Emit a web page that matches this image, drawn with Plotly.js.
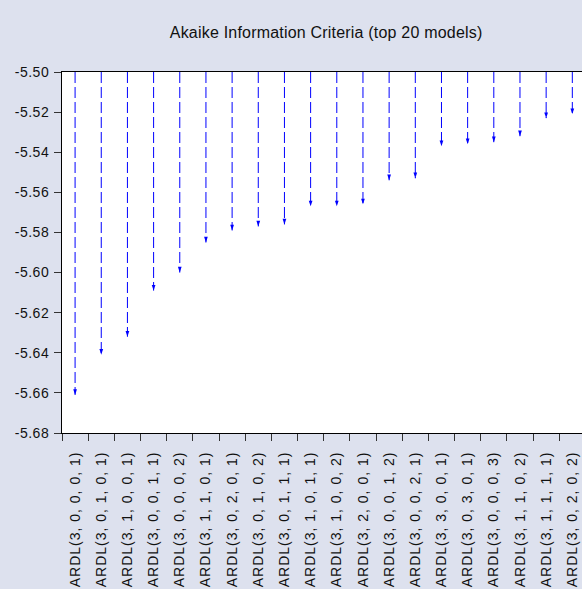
<!DOCTYPE html>
<html>
<head>
<meta charset="utf-8">
<script src="https://cdn.plot.ly/plotly-3.0.1.min.js"></script>
<style>
html,body{margin:0;padding:0;background:#DDE1EE;}
#chart{width:582px;height:589px;}
#chart .xtick text{letter-spacing:1px;}
#chart .ytick text{letter-spacing:0.5px;}
#chart .gtitle{letter-spacing:0.2px;}
</style>
</head>
<body>
<div id="chart"></div>
<script>
var models = [
  "ARDL(3, 0, 0, 0, 1)", "ARDL(3, 0, 1, 0, 1)", "ARDL(3, 1, 0, 0, 1)", "ARDL(3, 0, 0, 1, 1)",
  "ARDL(3, 0, 0, 0, 2)", "ARDL(3, 1, 1, 0, 1)", "ARDL(3, 0, 2, 0, 1)", "ARDL(3, 0, 1, 0, 2)",
  "ARDL(3, 0, 1, 1, 1)", "ARDL(3, 1, 0, 1, 1)", "ARDL(3, 1, 0, 0, 2)", "ARDL(3, 2, 0, 0, 1)",
  "ARDL(3, 0, 0, 1, 2)", "ARDL(3, 0, 0, 2, 1)", "ARDL(3, 3, 0, 0, 1)", "ARDL(3, 0, 3, 0, 1)",
  "ARDL(3, 0, 0, 0, 3)", "ARDL(3, 1, 1, 0, 2)", "ARDL(3, 1, 1, 1, 1)", "ARDL(3, 0, 2, 0, 2)"
];
var aic = [
  -5.661, -5.641, -5.632, -5.609, -5.600, -5.585, -5.579, -5.577, -5.576, -5.567,
  -5.567, -5.566, -5.554, -5.553, -5.537, -5.536, -5.535, -5.532, -5.523, -5.521
];
var baseline = -5.50;
var yTickVals = [-5.68, -5.66, -5.64, -5.62, -5.60, -5.58, -5.56, -5.54, -5.52, -5.50];
var yTickText = ["-5.68", "-5.66", "-5.64", "-5.62", "-5.60", "-5.58", "-5.56", "-5.54", "-5.52", "-5.50"];

var lx = [], ly = [];
for (var i = 0; i < models.length; i++) {
  lx.push(models[i], models[i], null);
  ly.push(baseline, aic[i], null);
}

var traces = [
  {
    type: 'scatter', mode: 'lines', x: lx, y: ly,
    line: {color: '#0000FF', width: 1, dash: '11px,4px'},
    hoverinfo: 'skip', connectgaps: false, cliponaxis: false
  },
  {
    type: 'scatter', mode: 'markers', x: models, y: aic,
    marker: {symbol: 'arrow', angle: 180, size: 6, color: '#0000FF', line: {width: 0}},
    cliponaxis: false
  }
];

var layout = {
  width: 582, height: 589,
  paper_bgcolor: '#DDE1EE', plot_bgcolor: '#FFFFFF',
  margin: {l: 62, r: 0, t: 72, b: 156, pad: 0},
  showlegend: false,
  font: {family: 'Liberation Sans, Arial, sans-serif', size: 14, color: '#111111'},
  title: {text: 'Akaike Information Criteria (top 20 models)', x: 0.508, xref: 'paper', y: 0.945, yref: 'container', yanchor: 'middle',
          font: {family: 'Liberation Sans, Arial, sans-serif', size: 16, color: '#111111'}},
  xaxis: {
    type: 'category', range: [-0.5, 19.37], autorange: false,
    showline: true, linecolor: '#000000', linewidth: 1, mirror: true,
    ticks: 'outside', ticklen: 7, tickcolor: '#333333', tickson: 'boundaries',
    tickangle: -90, showgrid: false, zeroline: false, ticklabelstandoff: 12,
    tickfont: {family: 'Liberation Sans, Arial, sans-serif', size: 14, color: '#111111'}
  },
  yaxis: {
    range: [-5.68, -5.50], autorange: false,
    tickvals: yTickVals, ticktext: yTickText,
    showline: true, linecolor: '#000000', linewidth: 1,
    ticks: 'outside', ticklen: 7, tickcolor: '#333333',
    showgrid: false, zeroline: false, ticklabelstandoff: 2,
    tickfont: {family: 'Liberation Sans, Arial, sans-serif', size: 14, color: '#111111'}
  }
};

Plotly.newPlot('chart', traces, layout, {displayModeBar: false, staticPlot: true});
</script>
</body>
</html>
